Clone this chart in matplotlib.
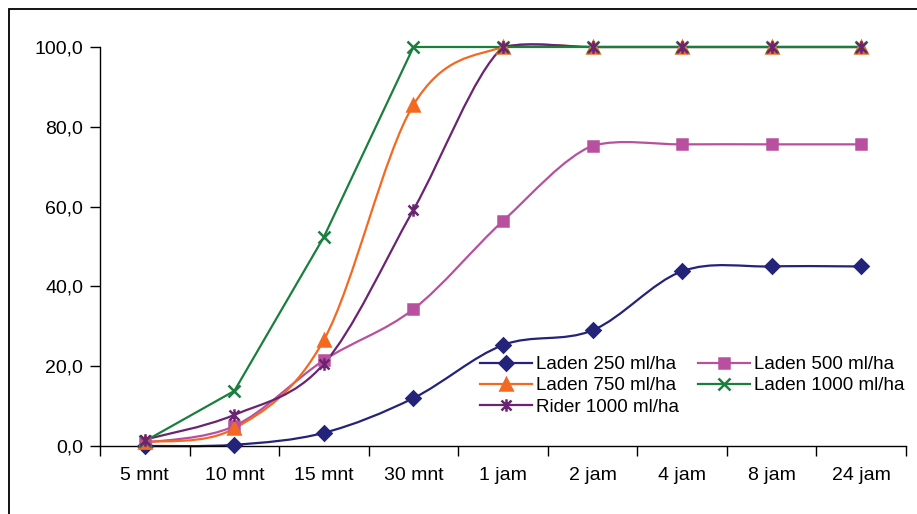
import numpy as np
import matplotlib.pyplot as plt
from matplotlib.path import Path
from matplotlib.patches import PathPatch, Rectangle
from matplotlib.lines import Line2D

# -----------------------------------
# DATOS
# -----------------------------------

waktu = ['5 mnt', '10 mnt', '15 mnt', '30 mnt', '1 jam', '2 jam', '4 jam', '8 jam', '24 jam']

laden_250 = [0.0, 0.3, 3.3, 12.0, 25.3, 29.0, 43.8, 45.0, 45.0]
laden_500 = [0.8, 5.0, 21.5, 34.3, 56.4, 75.3, 75.6, 75.6, 75.6]
laden_750 = [1.0, 4.4, 26.6, 85.5, 100.0, 100.0, 100.0, 100.0, 100.0]
laden_1000 = [1.2, 13.8, 52.4, 100.0, 100.0, 100.0, 100.0, 100.0, 100.0]
rider_1000 = [1.6, 7.8, 20.6, 59.2, 100.0, 100.0, 100.0, 100.0, 100.0]

plt.rcParams['font.family'] = ['Liberation Sans', 'DejaVu Sans']

# asterisco estilo Excel (x + linea vertical)
estrella = Path(
    [(-1, -1), (1, 1), (-1, 1), (1, -1), (0, -1.25), (0, 1.25)],
    [Path.MOVETO, Path.LINETO, Path.MOVETO, Path.LINETO, Path.MOVETO, Path.LINETO]
)


def curva_suave(x, y):
    # bezier tipo Excel "linea suavizada"
    x = np.asarray(x, float)
    y = np.asarray(y, float)
    px = np.concatenate([[x[0]], x, [x[-1]]])
    py = np.concatenate([[y[0]], y, [y[-1]]])
    verts = [(x[0], y[0])]
    codes = [Path.MOVETO]
    for a in range(1, len(x)):
        c1 = (px[a] + (px[a + 1] - px[a - 1]) / 6, py[a] + (py[a + 1] - py[a - 1]) / 6)
        c2 = (px[a + 1] - (px[a + 2] - px[a]) / 6, py[a + 1] - (py[a + 2] - py[a]) / 6)
        # evita que la curva se pase de los extremos (como Excel)
        c1 = (c1[0], min(c1[1], max(py[a], py[a + 1]) + 1.5))
        c2 = (c2[0], min(c2[1], max(py[a], py[a + 1]) + 1.5))
        verts += [c1, c2, (px[a + 1], py[a + 1])]
        codes += [Path.CURVE4] * 3
    return Path(verts, codes)


# -----------------------------------
# VENTANA
# -----------------------------------

fig = plt.figure(figsize=(9.17, 5.14), dpi=100)
ax = fig.add_axes([100 / 917, 1 - 446 / 514, 806 / 917, 399 / 514])

fig.patches.append(Rectangle((9 / 917, -0.1), 1.2, 1 - 9 / 514 + 0.1, transform=fig.transFigure,
                             fill=False, edgecolor='black', linewidth=1.3))

x = np.arange(len(waktu))

series = [
    (laden_250, 'Laden 250 ml/ha', '#23237a', 'D', 7.5, True),
    (laden_500, 'Laden 500 ml/ha', '#b8509f', 's', 7.5, True),
    (laden_750, 'Laden 750 ml/ha', '#f26a22', '^', 8.5, True),
    (laden_1000, 'Laden 1000 ml/ha', '#1a7f3e', 'x', 8.5, False),
    (rider_1000, 'Rider 1000 ml/ha', '#6a2472', estrella, 9, True),
]

handles = []
for datos, nombre, color, marca, tam, suave in series:
    if suave:
        ax.add_patch(PathPatch(curva_suave(x, datos), facecolor='none', edgecolor=color,
                               linewidth=1.6, clip_on=False))
    else:
        ax.plot(x, datos, color=color, linewidth=1.6, clip_on=False)
    ax.plot(x, datos, linestyle='none', marker=marca, markersize=tam, color=color,
            markeredgewidth=1.8, clip_on=False, zorder=3)
    handles.append(Line2D([], [], color=color, linewidth=1.6, marker=marca,
                          markersize=tam, markeredgewidth=1.8, label=nombre))

ax.set_xlim(-0.5, len(waktu) - 0.5)
ax.set_ylim(0, 100)
ax.set_yticks(np.arange(0, 101, 20))
ax.set_yticklabels([f"{v:.1f}".replace('.', ',') for v in np.arange(0, 101, 20)])
ax.set_xticks(x)
ax.set_xticklabels(waktu)
ax.set_xticks(np.arange(-0.5, len(waktu)), minor=True)
ax.tick_params(axis='x', which='major', length=0, pad=15, labelsize=14)
ax.tick_params(axis='x', which='minor', length=7, width=1, direction='out')
ax.tick_params(axis='y', length=7, width=1, direction='out', pad=5, labelsize=14)

for lado in ['top', 'right']:
    ax.spines[lado].set_visible(False)
for lado in ['left', 'bottom']:
    ax.spines[lado].set_linewidth(1)

orden = [handles[0], handles[2], handles[4], handles[1], handles[3]]
ax.legend(handles=orden, ncol=2, frameon=False, loc='upper left',
          bbox_to_anchor=(480 / 917, 1 - 356 / 514), bbox_transform=fig.transFigure,
          fontsize=13.5, handlelength=2.75, handletextpad=0.25, labelspacing=0.22,
          columnspacing=1.0, borderaxespad=0, borderpad=0)

fig.savefig('out.png', dpi=100)
